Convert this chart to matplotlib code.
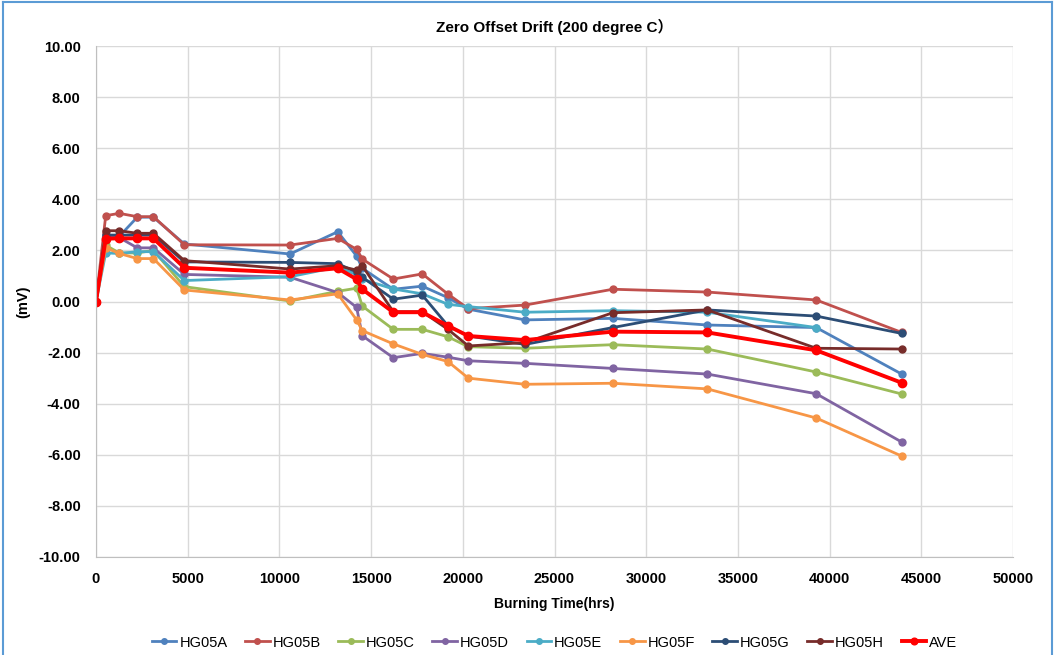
import numpy as np
import matplotlib
matplotlib.use('Agg')
import matplotlib.pyplot as plt
from matplotlib.lines import Line2D

plt.rcParams['font.family'] = ['Liberation Sans', 'Noto Sans CJK SC', 'DejaVu Sans']

# ── Data ─────────────────────────────────────────────────────
hours = [0, 530, 1270, 2250, 3130, 4820, 10580, 13180, 14210, 14520,
         16210, 17790, 19190, 20300, 23390, 28180, 33330, 39270, 43930]

hg05a = [0, 2.50, 2.55, 3.30, 3.30, 2.25, 1.86, 2.73, 1.78, 1.30,
         0.48, 0.60, 0.15, -0.30, -0.72, -0.66, -0.92, -1.02, -2.84]
hg05b = [0, 3.36, 3.45, 3.32, 3.32, 2.22, 2.21, 2.47, 2.04, 1.66,
         0.88, 1.08, 0.29, -0.28, -0.14, 0.48, 0.37, 0.06, -1.21]
hg05c = [0, 2.20, 1.90, 1.90, 2.00, 0.58, 0.02, 0.40, 0.52, -0.18,
         -1.09, -1.09, -1.38, -1.77, -1.83, -1.69, -1.86, -2.76, -3.62]
hg05d = [0, 2.60, 2.50, 2.10, 2.10, 1.06, 0.95, 0.35, -0.23, -1.34,
         -2.20, -2.03, -2.18, -2.32, -2.42, -2.62, -2.84, -3.61, -5.50]
hg05e = [0, 1.90, 1.88, 1.95, 1.95, 0.82, 0.97, 1.35, 1.05, 0.87,
         0.49, 0.30, -0.11, -0.20, -0.42, -0.36, -0.42, -1.02, np.nan]
hg05f = [0, 2.10, 1.88, 1.68, 1.68, 0.45, 0.06, 0.30, -0.72, -1.14,
         -1.66, -2.07, -2.35, -3.00, -3.24, -3.20, -3.42, -4.56, -6.05]
hg05g = [0, 2.60, 2.60, 2.60, 2.60, 1.55, 1.53, 1.48, 1.15, 0.95,
         0.09, 0.25, -0.95, -1.35, -1.68, -1.02, -0.33, -0.57, -1.25]
hg05h = [0, 2.77, 2.77, 2.67, 2.67, 1.60, 1.27, 1.40, 1.23, 1.40,
         -0.40, -0.40, -1.09, -1.74, -1.61, -0.44, -0.33, -1.83, -1.86]
ave = [0, 2.46, 2.47, 2.47, 2.47, 1.32, 1.13, 1.30, 0.87, 0.48,
       -0.42, -0.42, -0.95, -1.35, -1.51, -1.18, -1.21, -1.91, -3.18]

names = ['HG05A', 'HG05B', 'HG05C', 'HG05D', 'HG05E', 'HG05F', 'HG05G', 'HG05H']
series = [hg05a, hg05b, hg05c, hg05d, hg05e, hg05f, hg05g, hg05h]
colors = ['#4F81BD', '#C0504D', '#9BBB59', '#8064A2',
          '#4BACC6', '#F79646', '#2C4D75', '#772C2A']

x_ticks = np.arange(0, 50001, 5000)
y_ticks = np.arange(-10, 10.01, 2)

# ── Figure ───────────────────────────────────────────────────
fig = plt.figure(figsize=(10.55, 6.55), dpi=100)
ax = fig.add_axes([96 / 1055, 1 - 557 / 655, 917 / 1055, 511 / 655])

for name, vals, c in zip(names, series, colors):
    ax.plot(hours, vals, 'o-', color=c, linewidth=2, markersize=5, label=name)
ax.plot(hours, ave, 'o-', color='#FF0000', linewidth=2.8, markersize=6, label='AVE')

ax.set_xlim(0, 50000)
ax.set_ylim(-10, 10)
ax.set_xticks(x_ticks)
ax.set_yticks(y_ticks)
ax.set_xticklabels([str(v) for v in x_ticks], fontsize=10.5, fontweight='bold')
ax.set_yticklabels([f'{v:.2f}' for v in y_ticks], fontsize=10.5, fontweight='bold')
ax.tick_params(axis='y', length=0, pad=11)
ax.tick_params(axis='x', length=0, pad=11)
ax.grid(True, color='#D9D9D9', linewidth=1)
ax.set_axisbelow(True)
for side in ['top', 'right']:
    ax.spines[side].set_visible(False)
for side in ['left', 'bottom']:
    ax.spines[side].set_color('#BFBFBF')

ax.set_title('Zero Offset Drift (200 degree C）', fontsize=11, fontweight='bold', pad=10)
ax.set_xlabel('Burning Time(hrs)', fontsize=10, fontweight='bold', labelpad=8)
ax.set_ylabel('(mV)', fontsize=10.5, fontweight='bold', labelpad=6)

ax.legend(loc='upper center', bbox_to_anchor=(0.5, -0.128), ncol=9, frameon=False,
          fontsize=10.5, handlelength=1.7, handletextpad=0.2, columnspacing=1.2,
          markerscale=0.8)

# chart area border (blue frame as in the source)
for coords in [([0.003, 0.997], [0.997, 0.997]),
               ([0.003, 0.003], [0.0, 0.997]),
               ([0.997, 0.997], [0.0, 0.997])]:
    fig.add_artist(Line2D(coords[0], coords[1], color='#5B9BD5', linewidth=1.5,
                          transform=fig.transFigure))

fig.savefig('out.png', dpi=100)
